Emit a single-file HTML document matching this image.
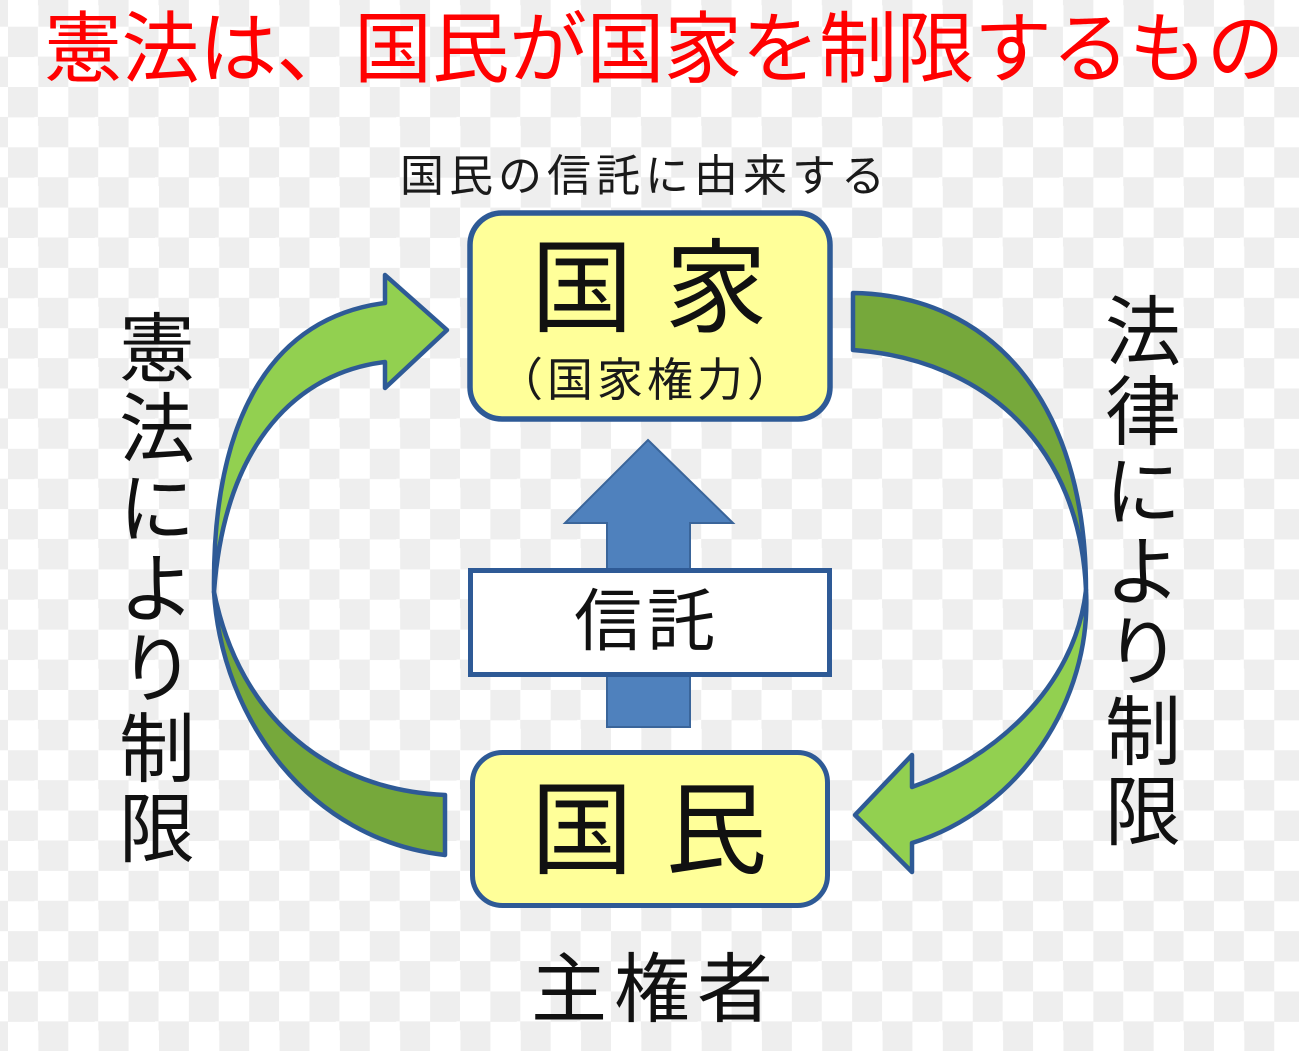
<!DOCTYPE html>
<html lang="ja">
<head>
<meta charset="utf-8">
<style>
  html, body { margin:0; padding:0; }
  body {
    width:1299px; height:1051px; overflow:hidden; position:relative;
    background-color:#fff;
    background-image: repeating-conic-gradient(#ffffff 0 25%, #eeeeee 0 50%);
    background-size: 60.3px 60.3px;
    background-position: 8px 87px;
    font-family: "Liberation Sans", "Noto Sans CJK JP", sans-serif;
  }
  svg { position:absolute; left:0; top:0; }
  .t { position:absolute; white-space:nowrap; color:#111; }
  .v { position:absolute; width:76px; font-size:76px; line-height:80px; text-align:center; color:#111; }
  .v span { display:block; height:80px; }
</style>
</head>
<body>
<svg width="1299" height="1051" viewBox="0 0 1299 1051" xmlns="http://www.w3.org/2000/svg">
  <g stroke="#2e5a96" stroke-width="4.5" stroke-linejoin="round">
    <path d="M 445 795 C 330 790 240 720 214 592 C 222 720 310 840 445 855 Z" fill="#76a83b"/>
    <path d="M 214 592 C 212 420 270 318 385 303 L 385 275 L 447 330 L 385 388 L 385 362 C 300 372 225 440 214 592 Z" fill="#92d050"/>
    <path d="M 853 293 C 990 295 1086 400 1086 590 C 1080 450 990 360 853 350 Z" fill="#76a83b"/>
    <path d="M 1086 590 C 1092 700 1020 810 912 843 L 912 872 L 855 815 L 912 755 L 912 787 C 990 760 1075 690 1086 590 Z" fill="#92d050"/>
  </g>
  <polygon points="648,440 733,523 690,523 690,727 607,727 607,523 565,523" fill="#4f81bd" stroke="#3a659a" stroke-width="2" stroke-linejoin="miter"/>
  <rect x="470" y="213" width="360" height="206" rx="32" ry="32" fill="#ffff99" stroke="#2e5a96" stroke-width="5.5"/>
  <rect x="470.5" y="570.5" width="359" height="104" fill="#ffffff" stroke="#2e5a96" stroke-width="5"/>
  <rect x="472.5" y="752.5" width="355" height="153" rx="30" ry="30" fill="#ffff99" stroke="#2e5a96" stroke-width="5"/>
</svg>

<div class="t" style="left:44px; top:10px; font-size:78px; line-height:78px; letter-spacing:-0.5px; color:#ff0000;">憲法は、国民が国家を制限するもの</div>

<div class="t" style="left:400px; top:155px; font-size:44px; line-height:44px; letter-spacing:5px; color:#1a1a1a;">国民の信託に由来する</div>

<div class="t" style="left:531px; top:238px; font-size:102px; line-height:102px; letter-spacing:32px;">国家</div>
<div class="t" style="left:497px; top:357px; font-size:46px; line-height:46px; letter-spacing:4px; color:#1a1a1a;">（国家権力）</div>

<div class="t" style="left:574px; top:588px; font-size:68px; line-height:68px; letter-spacing:5px;">信託</div>

<div class="t" style="left:531px; top:780px; font-size:102px; line-height:102px; letter-spacing:32px;">国民</div>

<div class="t" style="left:531px; top:953px; font-size:76px; line-height:76px; letter-spacing:7px;">主権者</div>

<div class="v" style="left:119px; top:311px;"><span>憲</span><span>法</span><span>に</span><span>よ</span><span>り</span><span>制</span><span>限</span></div>

<div class="v" style="left:1105px; top:294px;"><span>法</span><span>律</span><span>に</span><span>よ</span><span>り</span><span>制</span><span>限</span></div>
</body>
</html>
